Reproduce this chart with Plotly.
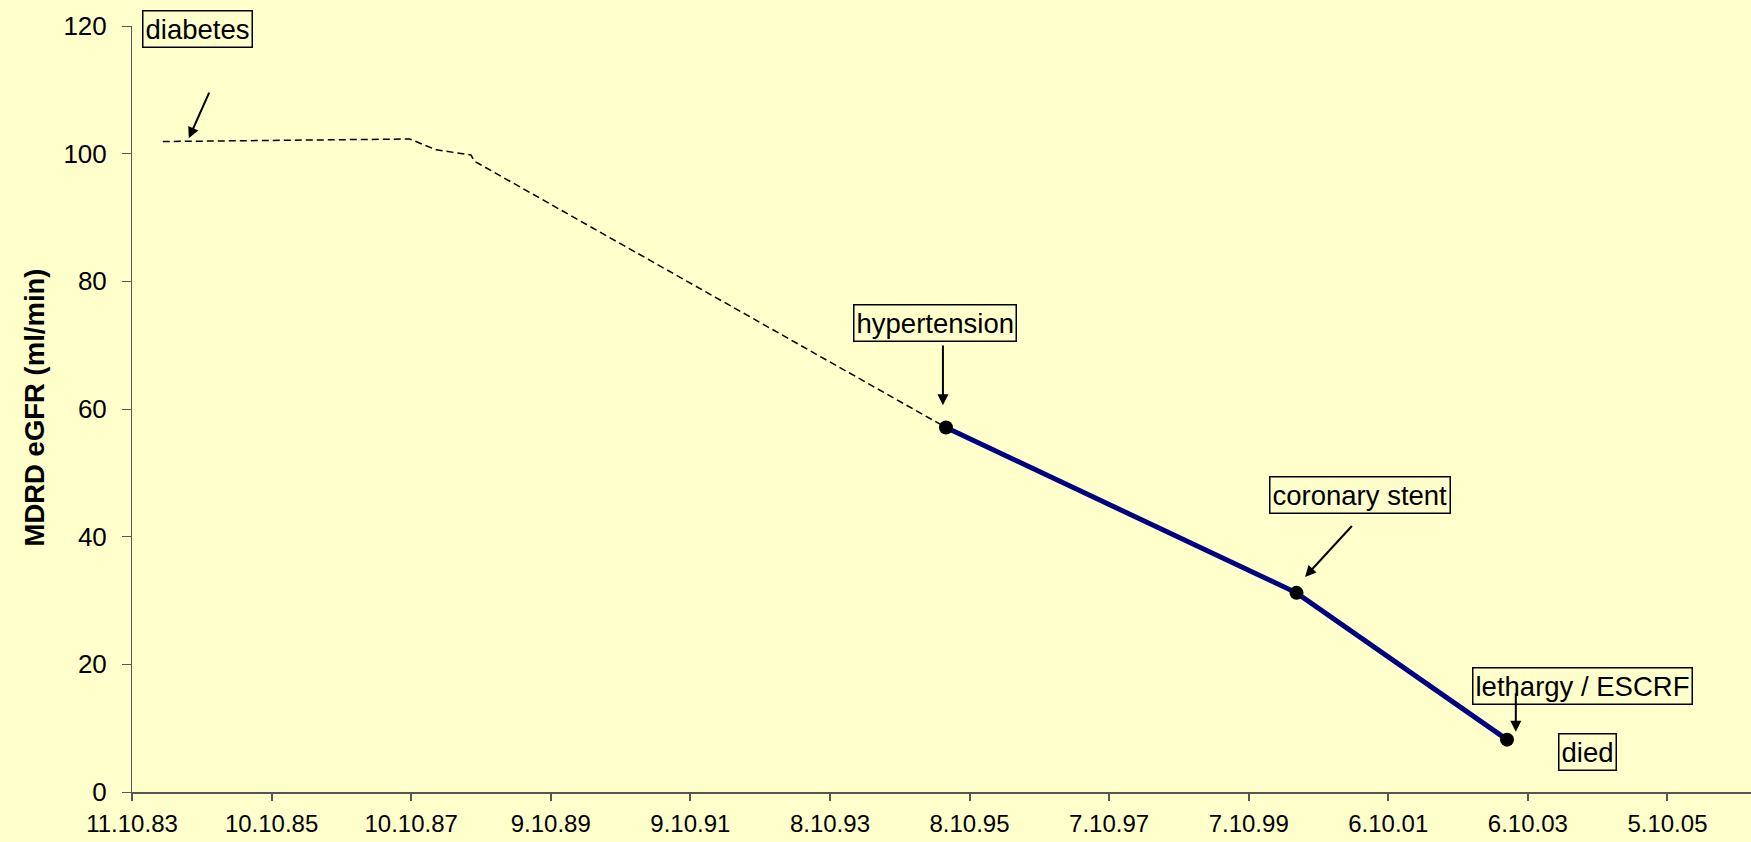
import plotly.graph_objects as go

# ---- data ----
trend_dates = ["1984-03-20", "1987-10-02", "1988-02-18", "1988-08-17", "1988-09-06", "1995-06-07"]
trend_values = [101.9, 102.3, 100.6, 99.8, 98.8, 57.1]

measured_dates = ["1995-06-07", "2000-06-13", "2003-06-19"]
measured_values = [57.1, 31.2, 8.2]

tick_dates = ["1983-10-11", "1985-10-10", "1987-10-10", "1989-10-09", "1991-10-09", "1993-10-08",
              "1995-10-08", "1997-10-07", "1999-10-07", "2001-10-06", "2003-10-06", "2005-10-05"]
tick_labels = ["11.10.83", "10.10.85", "10.10.87", "9.10.89", "9.10.91", "8.10.93",
               "8.10.95", "7.10.97", "7.10.99", "6.10.01", "6.10.03", "5.10.05"]

y_ticks = [0, 20, 40, 60, 80, 100, 120]

# event labels: (text, box x, box y, arrow tail x, arrow tail y, arrow head x, arrow head y)
events = [
    ("diabetes", "1984-09-16", 119.5, "1984-11-21", 109.8, "1984-08-03", 102.4),
    ("hypertension", "1995-04-12", 73.4, "1995-05-22", 70.2, "1995-05-22", 60.6),
    ("coronary stent", "2001-05-13", 46.6, "2001-04-06", 41.9, "2000-07-28", 33.7),
    ("lethargy / ESCRF", "2004-07-18", 16.6, "2003-08-04", 15.7, "2003-08-04", 9.45),
]
died_label = ("died", "2004-08-11", 6.2)

BG = "#FFFFCC"
FONT = "Liberation Sans, Arial, Helvetica, sans-serif"

fig = go.Figure()

fig.add_trace(go.Scatter(
    x=trend_dates, y=trend_values, mode="lines",
    line=dict(color="black", width=1.5, dash="7px,4px"),
    showlegend=False, hoverinfo="skip",
))
fig.add_trace(go.Scatter(
    x=measured_dates, y=measured_values, mode="lines+markers",
    line=dict(color="#000080", width=5),
    marker=dict(color="black", size=14),
    showlegend=False,
))

annotations = []
for text, bx, by, tx, ty, hx, hy in events:
    annotations.append(dict(
        x=bx, y=by, xref="x", yref="y", text=text, showarrow=False,
        font=dict(family=FONT, size=27.5, color="black"),
        bordercolor="black", borderwidth=1.5, borderpad=2, bgcolor="rgba(0,0,0,0)",
        xanchor="center", yanchor="middle",
    ))
    annotations.append(dict(
        x=hx, y=hy, ax=tx, ay=ty, xref="x", yref="y", axref="x", ayref="y",
        text="", showarrow=True, arrowhead=2, arrowsize=1.1, arrowwidth=2,
        arrowcolor="black", standoff=0, startstandoff=0,
    ))
annotations.append(dict(
    x=died_label[1], y=died_label[2], xref="x", yref="y", text=died_label[0], showarrow=False,
    font=dict(family=FONT, size=27.5, color="black"),
    bordercolor="black", borderwidth=1.5, borderpad=2, bgcolor="rgba(0,0,0,0)",
    xanchor="center", yanchor="middle",
))
annotations.append(dict(
    x=-0.0605, y=0.502, xref="paper", yref="paper", text="<b>MDRD eGFR (ml/min)</b>",
    textangle=-90, showarrow=False, font=dict(family=FONT, size=27.5, color="black"),
    xanchor="center", yanchor="middle",
))

fig.update_layout(
    width=1751, height=842,
    paper_bgcolor=BG, plot_bgcolor=BG,
    margin=dict(l=132, r=0, t=26, b=50),
    font=dict(family=FONT, color="black"),
    annotations=annotations,
    xaxis=dict(
        type="date", range=["1983-10-11", "2006-12-16"],
        tickmode="array", tickvals=tick_dates, ticktext=tick_labels,
        showgrid=False, zeroline=False,
        showline=True, linecolor="#555555", linewidth=1.5,
        ticks="outside", ticklen=7, tickcolor="#555555", tickwidth=1.5,
        tickfont=dict(family=FONT, size=24, color="black"),
        ticklabelstandoff=2,
    ),
    yaxis=dict(
        range=[0, 120], tickmode="array", tickvals=y_ticks,
        showgrid=False, zeroline=False,
        showline=True, linecolor="#555555", linewidth=1,
        ticks="outside", ticklen=9, tickcolor="#555555", tickwidth=1,
        tickfont=dict(family=FONT, size=26, color="black"),
        ticklabelstandoff=10,
    ),
)

fig.write_html(
    "out.html",
    config={"displayModeBar": False},
    post_script="document.body.style.margin='0';document.body.style.overflow='hidden';"
                "document.body.style.background='#FFFFCC';",
)
